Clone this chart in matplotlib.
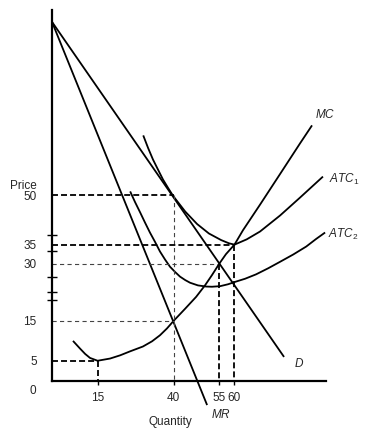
import numpy as np
import matplotlib
matplotlib.use("Agg")
import matplotlib.pyplot as plt

plt.rcParams['font.family'] = ['Liberation Sans', 'DejaVu Sans']
plt.rcParams['mathtext.fontset'] = 'custom'
plt.rcParams['mathtext.it'] = 'Liberation Sans:italic'
plt.rcParams['mathtext.rm'] = 'Liberation Sans'
plt.rcParams['lines.scale_dashes'] = False

# ---------------- data ----------------
D_Q = [0, 76.3]
D_P = [96.8, 6]
MR_Q = [0, 51]
MR_P = [96.8, -6]
MC_Q = [6.9, 9.2, 10.9, 12.5, 15, 19.1, 22.4, 25.7, 29.9, 32.9, 35.5, 37.8, 40,
        43.8, 47.4, 50.3, 52.6, 55, 57.2, 60, 62.8, 68.4, 75, 81.6, 85.5]
MC_P = [10.0, 8.1, 6.75, 5.75, 5.05, 5.6, 6.4, 7.4, 8.6, 9.9, 11.4, 13.1, 15.0,
        18.2, 21.3, 24.3, 27.0, 30.0, 32.5, 35.0, 39.4, 47.2, 55.8, 64.1, 68.9]
ATC1_Q = [30, 31.6, 33.2, 34.9, 36.5, 38.2, 39.8, 43.8, 47.7, 51.6, 55.6, 58.2,
          60, 64, 68.4, 75, 81.6, 89.1]
ATC1_P = [66.2, 62.8, 59.7, 56.9, 54.3, 52.0, 49.9, 45.1, 41.3, 38.4, 36.4, 35.4,
          35.0, 36.6, 39.0, 43.9, 49.4, 55.1]
ATC2_Q = [25.7, 27.3, 29.0, 30.6, 32.2, 33.9, 35.5, 37.2, 38.8, 40.5, 42.1, 43.8,
          45.4, 48.0, 50.7, 52.6, 55.3, 57.9, 60.5, 63.5, 67.1, 71.1, 75, 79.3,
          83.6, 86.8, 89.8]
ATC2_P = [51.1, 48.0, 44.8, 41.7, 38.7, 35.8, 33.2, 31.05, 29.2, 27.8, 26.6, 25.7,
          25.0, 24.3, 24.0, 23.95, 24.1, 24.6, 25.3, 26.05, 27.2, 28.8, 30.5, 32.4,
          34.5, 36.7, 38.7]

PRICE_TICKS = [5, 15, 30, 35, 50]
QTY_TICKS = [15, 40, 55, 60]
MINOR_PRICE_TICKS = [20.6, 22.5, 26.6, 33.4, 38.0]

# guide lines at key (Q, P) points
GUIDE_Q = [40, 60, 55, 40, 15]
GUIDE_P = [50, 35, 30, 15, 5]
GUIDE_H_THICK = [True, True, False, False, True]
GUIDE_V = [True, True, True, False, True]
GUIDE_V_THICK = [False, True, True, False, True]

# schematic (non-uniform) price axis used by the drawing
PRICE_KNOTS = [-25, 0, 5, 15, 30, 35, 50, 100]
DRAWN_KNOTS = [-100, 0, 20, 60, 117, 136, 185, 370]

def fwd(p):
    return np.interp(p, PRICE_KNOTS, DRAWN_KNOTS)

def inv(h):
    return np.interp(h, DRAWN_KNOTS, PRICE_KNOTS)

# ---------------- figure ----------------
W, H = 368, 437
fig = plt.figure(figsize=(W / 100, H / 100), dpi=100)
ax = fig.add_axes([52 / W, 56 / H, 288 / W, 371 / H])
ax.set_yscale('function', functions=(fwd, inv))
ax.set_xlim(0, 94.7)
ax.set_ylim(0, 100.27)

curve_kw = dict(color='black', lw=1.3, solid_capstyle='butt',
                solid_joinstyle='round', clip_on=False)
ax.plot(D_Q, D_P, **curve_kw)
ax.plot(MR_Q, MR_P, **curve_kw)
ax.plot(MC_Q, MC_P, **curve_kw)
ax.plot(ATC1_Q, ATC1_P, **curve_kw)
ax.plot(ATC2_Q, ATC2_P, **curve_kw)

thick = dict(color='black', lw=1.3, dashes=(4.3, 2.2))
thin = dict(color='#444444', lw=0.8, dashes=(3.0, 2.4))
for q, p, ht, v, vt in zip(GUIDE_Q, GUIDE_P, GUIDE_H_THICK, GUIDE_V, GUIDE_V_THICK):
    ax.plot([0, q], [p, p], **(thick if ht else thin))
    if v:
        ax.plot([q, q], [p, 0], **(thick if vt else thin))

# axes styling
for s in ('top', 'right'):
    ax.spines[s].set_visible(False)
for s in ('left', 'bottom'):
    ax.spines[s].set_linewidth(1.6)
ax.spines['bottom'].set_bounds(0, 90.1)

txt_color = '#262626'
ax.set_xticks(QTY_TICKS)
ax.set_xticklabels([str(v) for v in QTY_TICKS])
ax.tick_params(axis='x', direction='out', length=3, width=1, pad=5,
               labelsize=8.5, labelcolor=txt_color)
ax.set_yticks(PRICE_TICKS)
ax.set_yticklabels([str(v) for v in PRICE_TICKS])
ax.tick_params(axis='y', which='major', length=0, pad=11,
               labelsize=8.5, labelcolor=txt_color)
ax.set_yticks(MINOR_PRICE_TICKS, minor=True)
ax.tick_params(axis='y', which='minor', direction='inout', length=6.5, width=1)
ax.tick_params(axis='x', which='minor', length=0)

# origin label
ax.annotate('0', xy=(0, 0), xytext=(-19, -10), textcoords='offset pixels',
            ha='center', va='center', fontsize=8.5, color=txt_color,
            annotation_clip=False)

# curve labels
lab_kw = dict(textcoords='offset pixels', fontsize=8.5, color=txt_color,
              annotation_clip=False, va='center')
ax.annotate(r'$MC$', xy=(MC_Q[-1], MC_P[-1]), xytext=(13, 11), ha='center', **lab_kw)
ax.annotate(r'$ATC_1$', xy=(ATC1_Q[-1], ATC1_P[-1]), xytext=(6, -3), ha='left', **lab_kw)
ax.annotate(r'$ATC_2$', xy=(ATC2_Q[-1], ATC2_P[-1]), xytext=(3, -2), ha='left', **lab_kw)
ax.annotate(r'$D$', xy=(D_Q[-1], D_P[-1]), xytext=(15, -7), ha='center', **lab_kw)
ax.annotate(r'$MR$', xy=(MR_Q[-1], MR_P[-1]), xytext=(14, -9), ha='center', **lab_kw)

fig.text(23 / W, 1 - 186 / H, 'Price', ha='center', va='center',
         fontsize=8.5, color=txt_color)
fig.text(170 / W, 1 - 422 / H, 'Quantity', ha='center', va='center',
         fontsize=8.5, color=txt_color)

fig.savefig('out.png', dpi=100)
